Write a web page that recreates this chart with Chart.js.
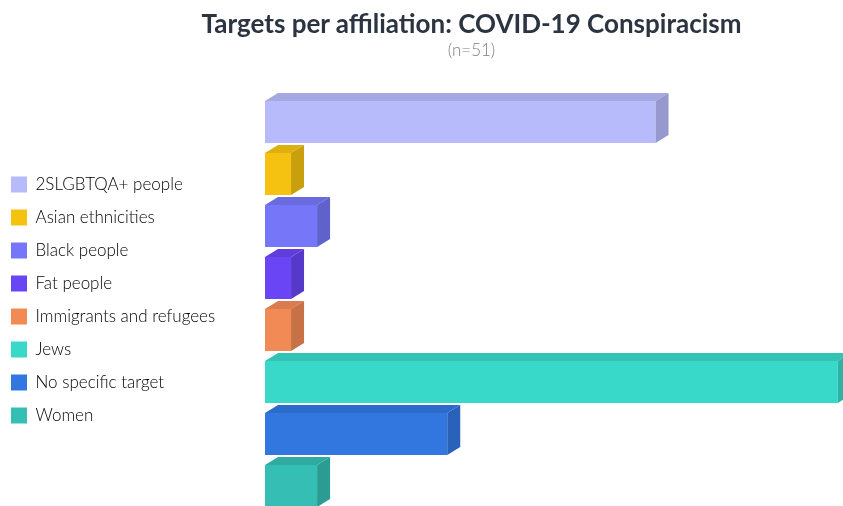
<!DOCTYPE html>
<html>
<head>
<meta charset="utf-8">
<script src="https://cdn.jsdelivr.net/npm/chart.js@4.4.0/dist/chart.umd.min.js"></script>
<style>
    html, body { margin: 0; padding: 0; background: #fff; overflow: hidden; }
    #wrap { position: relative; width: 843px; height: 530px; }
    #title {
        position: absolute; left: 0; top: 7px; width: 943px; text-align: center;
        font-family: Lato, sans-serif; font-weight: bold; font-size: 26px; color: #2b3440;
    }
    #subtitle {
        position: absolute; left: 0; top: 39px; width: 943px; text-align: center;
        font-family: Lato, sans-serif; font-weight: 300; font-size: 17px; color: #7f7f7f;
    }
</style>
</head>
<body>
<div id="wrap">
    <canvas id="targetChart" width="843" height="530"></canvas>
    <div id="title">Targets per affiliation: COVID-19 Conspiracism</div>
    <div id="subtitle">(n=51)</div>
</div>
<script>
const targets = [
    "2SLGBTQA+ people", "Asian ethnicities", "Black people", "Fat people",
    "Immigrants and refugees", "Jews", "No specific target", "Women"
];
const counts = [15, 1, 2, 1, 1, 22, 7, 2];
const frontColors = ["#b8bbfb", "#f5c211", "#7577f8", "#6a45f5", "#f28a55", "#38d9c9", "#3277e0", "#34beb4"];

// darken a hex colour for the top / side faces
function shade(hex, f) {
    const n = parseInt(hex.slice(1), 16);
    const r = Math.round(((n >> 16) & 255) * f);
    const g = Math.round(((n >> 8) & 255) * f);
    const b = Math.round((n & 255) * f);
    return `rgb(${r}, ${g}, ${b})`;
}

// draws the fake 3D top and right faces of each bar
const bar3d = {
    id: "bar3d",
    afterDatasetsDraw(chart) {
        const ctx = chart.ctx;
        const dx = 13, dy = 8;
        chart.getDatasetMeta(0).data.forEach((bar, i) => {
            const { x, y, base, height } = bar.getProps(["x", "y", "base", "height"], true);
            const top = y - height / 2, bottom = y + height / 2;
            ctx.save();
            ctx.fillStyle = shade(frontColors[i], 0.9);
            ctx.beginPath();
            ctx.moveTo(base, top);
            ctx.lineTo(base + dx, top - dy);
            ctx.lineTo(x + dx, top - dy);
            ctx.lineTo(x, top);
            ctx.closePath();
            ctx.fill();
            ctx.fillStyle = shade(frontColors[i], 0.82);
            ctx.beginPath();
            ctx.moveTo(x, top);
            ctx.lineTo(x + dx, top - dy);
            ctx.lineTo(x + dx, bottom - dy);
            ctx.lineTo(x, bottom);
            ctx.closePath();
            ctx.fill();
            ctx.restore();
        });
    }
};

// fix legend width so the bars start where they do in the original,
// and nudge the legend block up a little
const legendFit = {
    id: "legendFit",
    beforeInit(chart) {
        const fit = chart.legend.fit;
        chart.legend.fit = function () {
            fit.bind(this)();
            this.width = 270;
        };
    },
    afterLayout(chart) {
        chart.legend.top -= 4;
        chart.legend.bottom -= 4;
    }
};

new Chart(document.getElementById("targetChart"), {
    type: "bar",
    data: {
        labels: targets,
        datasets: [{
            data: counts,
            backgroundColor: frontColors,
            categoryPercentage: 1,
            barPercentage: 0.81,
        }],
    },
    options: {
        indexAxis: "y",
        responsive: false,
        animation: false,
        layout: { padding: { top: 96, bottom: 18, left: -5, right: 0 } },
        scales: {
            x: { display: false, min: 0, max: 22.2 },
            y: { display: false },
        },
        plugins: {
            legend: {
                position: "left",
                labels: {
                    boxWidth: 16,
                    boxHeight: 16,
                    padding: 16,
                    color: "#858585",
                    font: { family: "Lato", size: 17, weight: 300 },
                    generateLabels: (chart) => targets.map((t, i) => ({
                        text: t,
                        fillStyle: frontColors[i],
                        strokeStyle: frontColors[i],
                        lineWidth: 0,
                        index: i,
                    })),
                },
                onClick: null,
            },
            tooltip: { enabled: false },
        },
    },
    plugins: [bar3d, legendFit],
});
</script>
</body>
</html>
